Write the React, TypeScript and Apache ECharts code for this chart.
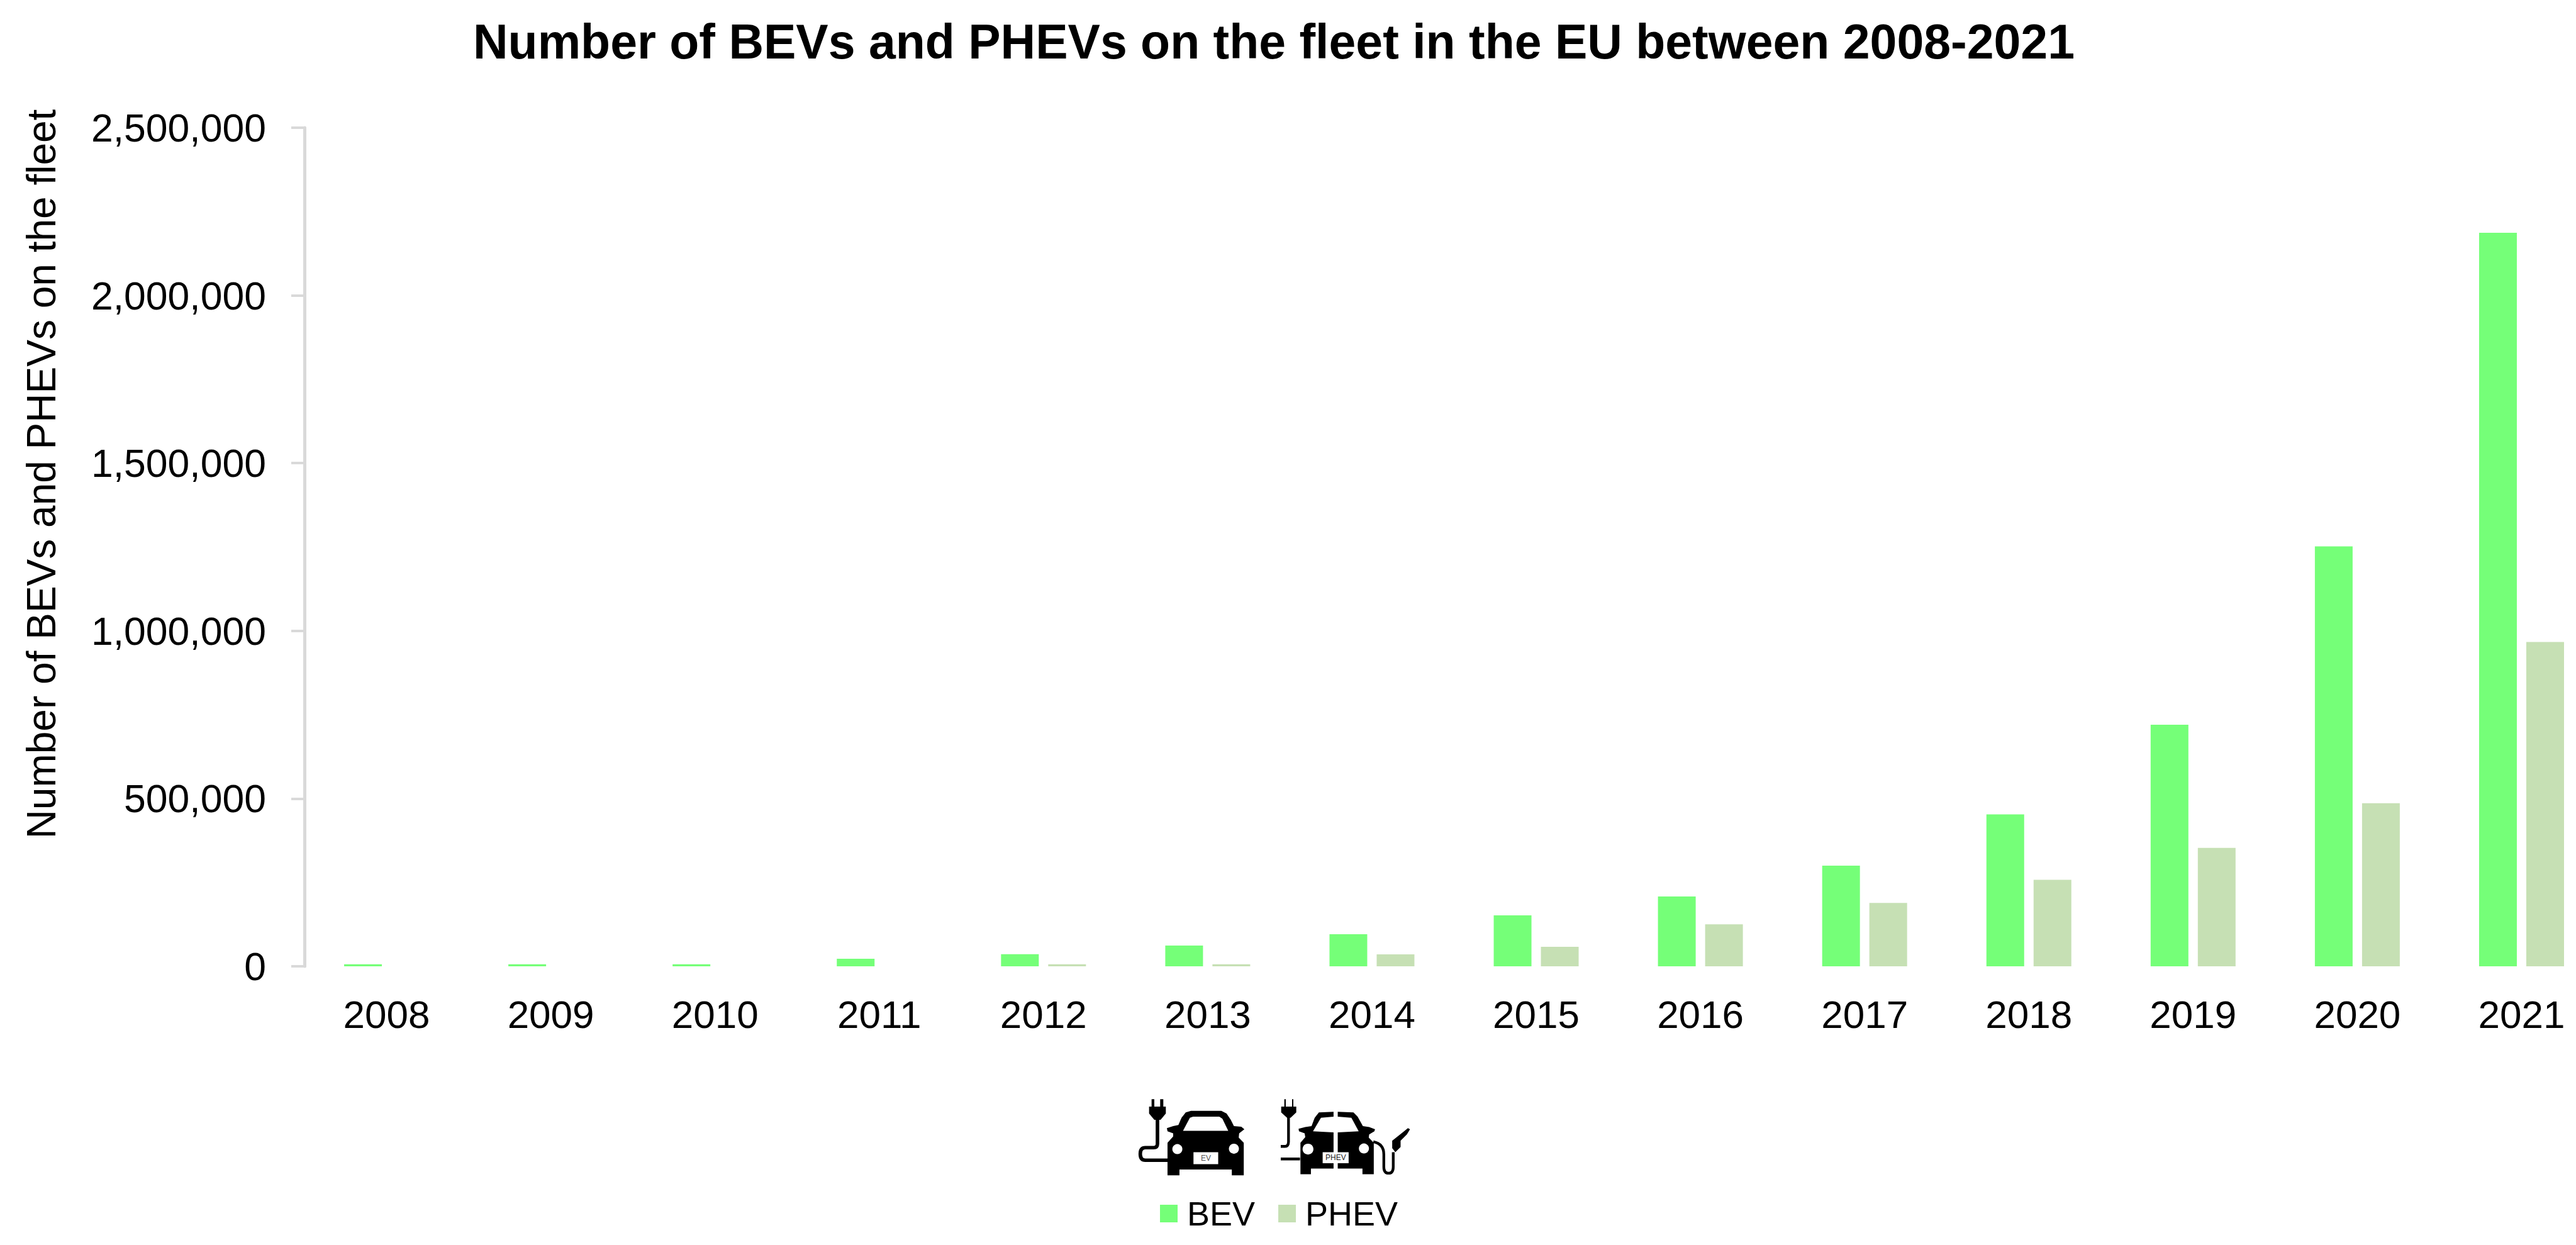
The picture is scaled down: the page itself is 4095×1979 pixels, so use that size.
import React, { useEffect, useRef } from "react";
import * as echarts from "echarts";

const titleText = "Number of BEVs and PHEVs on the fleet in the EU between 2008-2021";
const yAxisTitle = "Number of BEVs and PHEVs on the fleet";
const years = ["2008", "2009", "2010", "2011", "2012", "2013", "2014", "2015", "2016", "2017", "2018", "2019", "2020", "2021"];
const bevValues = [6000, 6000, 6000, 22500, 36000, 62000, 95500, 152000, 208000, 300000, 453000, 720000, 1252000, 2187000];
const phevValues = [0, 0, 0, 0, 6000, 6000, 35600, 58000, 125000, 189000, 258000, 353000, 486000, 967000];

const FONT = "Liberation Sans";
const BEV_COLOR = "#75FF78";
const PHEV_COLOR = "#C6E0B4";
const AXIS_COLOR = "#D9D9D9";

const bevFill =
  "M138 400L138 245L165 215L165 200L138 190L135 175L165 165L190 160L205 125L225 100L250 92L395 92L420 105L440 135L455 165L490 168L505 180L480 200L478 220L502 245L502 400L445 400L445 372L195 372L195 400Z" +
  "M62 37L75 37L75 72L103 72L103 37L118 37L118 72L130 72L130 105L105 135L75 135L50 105L50 72L62 72Z";
const bevCable = "M90 130L90 250Q90 268 72 268L32 268Q8 268 8 298Q8 328 32 328L142 328";
const phevFill =
  "M112 395L112 245L135 218L132 200L105 190L103 178L135 170L165 165L180 125L200 100L270 97L270 120L210 125L172 190L270 195L270 368L162 368L162 395Z" +
  "M290 97L365 100L385 120L410 165L440 170L468 180L465 190L440 205L438 220L462 245L462 395L408 395L408 368L290 368L290 195L390 190L355 125L290 120Z" +
  "M35 37L42 37L42 72L72 72L72 37L78 37L78 72L92 72L92 100L65 125L48 125L20 100L20 72L35 72Z" +
  "M550 235L600 195L625 175L635 180L620 205L590 235L590 265L565 290L550 270Z";
const phevCable =
  "M55 120L55 240Q55 262 38 262L18 262M18 322L110 322M460 240Q510 250 510 300L510 360Q510 390 533 390Q555 390 555 360L555 290";

echarts.graphic.registerShape("bevFill", echarts.graphic.extendPath(bevFill, {}));
echarts.graphic.registerShape("bevCable", echarts.graphic.extendPath(bevCable, {}));
echarts.graphic.registerShape("phevFill", echarts.graphic.extendPath(phevFill, {}));
echarts.graphic.registerShape("phevCable", echarts.graphic.extendPath(phevCable, {}));

export default function App() {
  const ref = useRef<HTMLDivElement>(null);
  useEffect(() => {
    document.body.style.margin = "0";
    const chart = echarts.init(ref.current!, undefined, { renderer: "svg" });
    const white = { fill: "#fff" };
    chart.setOption({
      animation: false,
      backgroundColor: "#fff",
      title: {
        text: titleText,
        left: 747,
        top: 22,
        textStyle: { fontFamily: FONT, fontWeight: "bold", fontSize: 77, color: "#000" },
      },
      grid: { left: 484, top: 203, width: 3655, height: 1333, containLabel: false, outerBoundsMode: "none" },
      legend: {
        left: 1844,
        top: 1902,
        padding: 0,
        itemWidth: 28,
        itemHeight: 28,
        itemGap: 37,
        icon: "rect",
        data: ["BEV", "PHEV"],
        textStyle: { fontFamily: FONT, fontSize: 54, color: "#000", padding: [0, 0, 0, 10] },
      },
      xAxis: {
        type: "category",
        data: years,
        axisLine: { show: false },
        axisTick: { show: false },
        axisLabel: { fontFamily: FONT, fontSize: 62, color: "#000", margin: 45, interval: 0 },
      },
      yAxis: {
        type: "value",
        min: 0,
        max: 2500000,
        interval: 500000,
        name: yAxisTitle,
        nameLocation: "middle",
        nameGap: 386,
        nameTextStyle: { fontFamily: FONT, fontSize: 64, color: "#000", padding: [0, 0, 0, 232] },
        axisLine: { show: true, lineStyle: { color: AXIS_COLOR, width: 5 } },
        axisTick: { show: true, length: 21, lineStyle: { color: AXIS_COLOR, width: 4 } },
        splitLine: { show: false },
        axisLabel: {
          fontFamily: FONT,
          fontSize: 62.5,
          color: "#000",
          margin: 61,
          formatter: (v: number) => v.toLocaleString("en-US"),
        },
      },
      series: [
        { name: "BEV", type: "bar", data: bevValues, barWidth: 60, barGap: "25%", itemStyle: { color: BEV_COLOR } },
        { name: "PHEV", type: "bar", data: phevValues, barWidth: 60, barGap: "25%", itemStyle: { color: PHEV_COLOR } },
      ],
      graphic: [
        {
          type: "group",
          x: 1810,
          y: 1735,
          scaleX: 1 / 3,
          scaleY: 1 / 3,
          children: [
            { type: "bevFill", style: { fill: "#000" } },
            { type: "bevCable", style: { fill: "none", stroke: "#000", lineWidth: 17 } },
            { type: "polygon", shape: { points: [[212, 188], [245, 125], [260, 120], [385, 120], [400, 130], [428, 188]] }, style: white },
            { type: "circle", shape: { cx: 185, cy: 275, r: 24 }, style: white },
            { type: "circle", shape: { cx: 455, cy: 273, r: 24 }, style: white },
            { type: "rect", shape: { x: 262, y: 290, width: 118, height: 57 }, style: white },
            { type: "text", x: 321, y: 319, style: { text: "EV", fontFamily: FONT, fontSize: 36, fill: "#555", align: "center", verticalAlign: "middle" } },
          ],
        },
        {
          type: "group",
          x: 2030,
          y: 1735,
          scaleX: 1 / 3,
          scaleY: 1 / 3,
          children: [
            { type: "phevFill", style: { fill: "#000" } },
            { type: "phevCable", style: { fill: "none", stroke: "#000", lineWidth: 13 } },
            { type: "circle", shape: { cx: 148, cy: 275, r: 26 }, style: white },
            { type: "circle", shape: { cx: 415, cy: 272, r: 24 }, style: white },
            { type: "rect", shape: { x: 218, y: 290, width: 124, height: 52 }, style: white },
            { type: "text", x: 280, y: 316, style: { text: "PHEV", fontFamily: FONT, fontSize: 36, fill: "#222", align: "center", verticalAlign: "middle" } },
          ],
        },
      ],
    });
    return () => chart.dispose();
  }, []);
  return <div ref={ref} style={{ position: "absolute", left: 0, top: 0, width: 4095, height: 1979 }} />;
}
